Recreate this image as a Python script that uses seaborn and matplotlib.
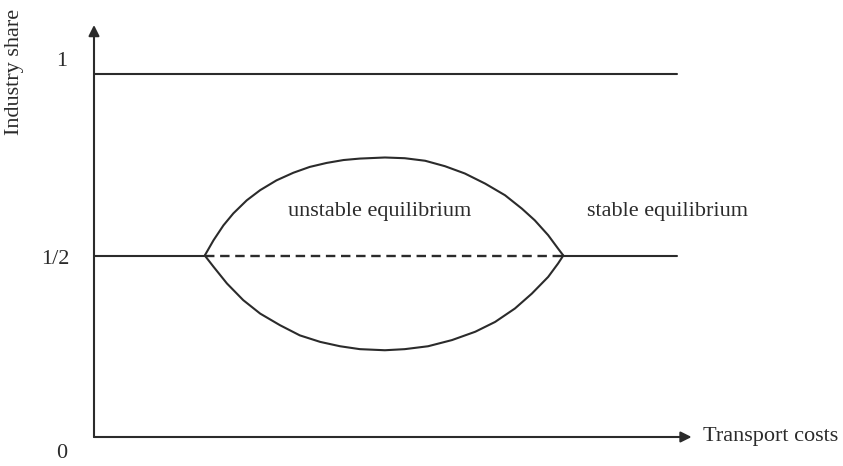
import matplotlib
matplotlib.use("Agg")
import matplotlib.pyplot as plt
import seaborn as sns
import pandas as pd

sns.set_style("white")
plt.rcParams['font.family'] = ['Liberation Serif', 'DejaVu Serif']

# horizontal equilibrium lines (industry share vs transport costs)
line_x = [0.0, 1.0]
full_share = [1.0, 1.0]
half_share = [0.5, 0.5]

# the lens between the break and sustain points
upper_x = [0.190, 0.205, 0.222, 0.239, 0.262, 0.285, 0.313, 0.342, 0.370, 0.399, 0.428, 0.456,
           0.499, 0.533, 0.568, 0.602, 0.636, 0.671, 0.705, 0.734, 0.756, 0.779, 0.796, 0.805]
upper_y = [0.500, 0.542, 0.583, 0.616, 0.652, 0.680, 0.707, 0.728, 0.744, 0.755, 0.763, 0.767,
           0.770, 0.768, 0.761, 0.746, 0.726, 0.698, 0.666, 0.629, 0.597, 0.556, 0.519, 0.500]
lower_x = [0.190, 0.205, 0.228, 0.256, 0.285, 0.319, 0.353, 0.388, 0.422, 0.456, 0.499,
           0.533, 0.573, 0.614, 0.654, 0.688, 0.722, 0.751, 0.779, 0.796, 0.805]
lower_y = [0.500, 0.469, 0.423, 0.377, 0.340, 0.308, 0.280, 0.262, 0.250, 0.242, 0.239,
           0.242, 0.250, 0.267, 0.290, 0.317, 0.354, 0.395, 0.441, 0.478, 0.500]

# stable parts of the 1/2 line and unstable (dashed) middle
stable_left_x = [0.0, 0.190]
stable_right_x = [0.805, 1.0]
unstable_x = [0.190, 0.805]

tick_labels = ['1', '1/2', '0']

ink = '#2b2b2b'
lw = 1.5

fig = plt.figure(figsize=(8.43, 4.66), dpi=100)
ax = fig.add_axes([94 / 843, 29 / 466, 1.03 * 583 / 843, 1.14 * 363 / 466])
ax.set_xlim(0, 1.03)
ax.set_ylim(0, 1.14)
ax.axis('off')

sns.lineplot(x=line_x, y=full_share, color=ink, lw=lw, ax=ax)
sns.lineplot(x=stable_left_x, y=half_share, color=ink, lw=lw, ax=ax)
sns.lineplot(x=stable_right_x, y=half_share, color=ink, lw=lw, ax=ax)
sns.lineplot(x=unstable_x, y=half_share, color=ink, lw=1.7, ax=ax)
ax.lines[-1].set_dashes((4, 2.4))

upper = pd.DataFrame({'x': upper_x, 'y': upper_y})
lower = pd.DataFrame({'x': lower_x, 'y': lower_y})
sns.lineplot(data=upper, x='x', y='y', color=ink, lw=lw, ax=ax, sort=False,
             solid_joinstyle='round')
sns.lineplot(data=lower, x='x', y='y', color=ink, lw=lw, ax=ax, sort=False,
             solid_joinstyle='round')

# axes with arrow heads
arrow = dict(arrowstyle='-|>', color=ink, lw=lw, mutation_scale=16, shrinkA=0, shrinkB=0)
ax.annotate('', xy=(1.025, 0), xytext=(0, 0), arrowprops=arrow, annotation_clip=False)
ax.annotate('', xy=(0, 1.135), xytext=(0, 0), arrowprops=arrow, annotation_clip=False)

fs = 16
ax.text(-0.055, 1.035, tick_labels[0], ha='center', va='center', fontsize=fs, color=ink)
ax.text(-0.066, 0.49, tick_labels[1], ha='center', va='center', fontsize=fs, color=ink)
ax.text(-0.055, -0.045, tick_labels[2], ha='center', va='center', fontsize=fs, color=ink)

ax.text(0.49, 0.62, 'unstable equilibrium', ha='center', va='center', fontsize=fs, color=ink)
ax.text(0.983, 0.62, 'stable equilibrium', ha='center', va='center', fontsize=fs, color=ink)
ax.text(1.044, 0.0, 'Transport costs', ha='left', va='center', fontsize=fs, color=ink)
fig.text(15 / 843, 1 - 72 / 466, 'Industry share', rotation=90, ha='center', va='center',
         fontsize=fs, color=ink)

fig.savefig('out.png', dpi=100)
